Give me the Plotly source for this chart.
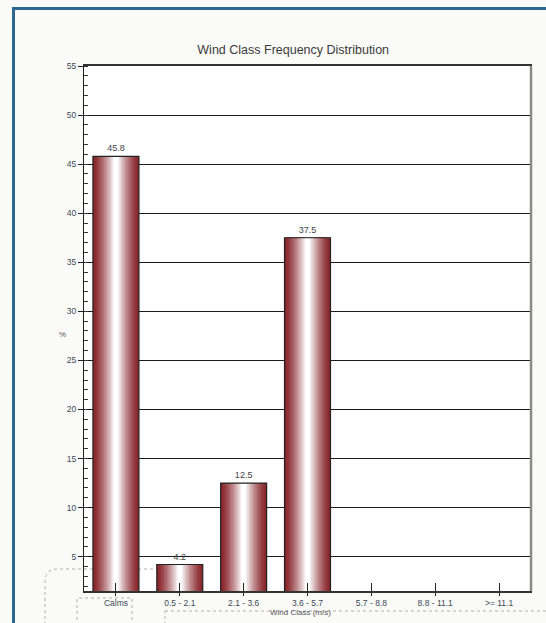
import plotly.graph_objects as go

# ---- data -------------------------------------------------------------
wind_classes = ["Calms", "0.5 - 2.1", "2.1 - 3.6", "3.6 - 5.7",
                "5.7 - 8.8", "8.8 - 11.1", ">= 11.1"]
frequency_pct = [45.8, 4.2, 12.5, 37.5, 0.0, 0.0, 0.0]
y_ticks = [5, 10, 15, 20, 25, 30, 35, 40, 45, 50, 55]

# ---- geometry ---------------------------------------------------------
W, H = 546, 623
PL, PR, PT, PB = 84, 531, 66, 591
BAR_W = 0.72
LAYERS = 16
FONT = "Liberation Sans, Arial, sans-serif"


def px(x):
    return (x - PL) / (PR - PL)


def py(y):
    return (PB - y) / (PB - PT)


dark = (136, 38, 44)
white = (255, 255, 255)


def shade(t):
    t = t ** 1.35
    return "rgb({},{},{})".format(*[round(d + (w - d) * t) for d, w in zip(dark, white)])


fig = go.Figure()

# cylinder-style shading: nested bars, narrowing toward a white core
for i in range(LAYERS):
    t = i / (LAYERS - 1)
    fig.add_trace(go.Bar(
        x=wind_classes, y=frequency_pct,
        width=BAR_W * (1 - 0.9 * t),
        marker=dict(color=shade(t), line=dict(width=0)),
        showlegend=False, hoverinfo="skip",
    ))

# outline + value labels
fig.add_trace(go.Bar(
    x=wind_classes, y=frequency_pct, width=BAR_W,
    marker=dict(color="rgba(0,0,0,0)", line=dict(color="#222", width=1.2)),
    text=[f"{v:.1f}" if v > 0 else "" for v in frequency_pct],
    textposition="outside", cliponaxis=False,
    textfont=dict(family=FONT, size=9, color="#444"),
    showlegend=False, hoverinfo="skip",
))

# companion axis carrying the upward half of the x ticks
fig.add_trace(go.Scatter(x=wind_classes, y=frequency_pct, xaxis="x2",
                         mode="none", showlegend=False, hoverinfo="skip"))

fig.update_layout(
    width=W, height=H,
    margin=dict(l=PL, r=W - PR, t=PT, b=H - PB),
    paper_bgcolor="#fafaf8", plot_bgcolor="white",
    barmode="overlay",
    font=dict(family=FONT, color="#444"),
    title=dict(text="Wind Class Frequency Distribution",
               x=0.537, xref="container", xanchor="center",
               y=1 - 50 / H, yref="container", yanchor="middle",
               font=dict(family=FONT, size=12.5, color="#3a3a3a")),
    xaxis=dict(type="category", categoryorder="array", categoryarray=wind_classes,
               range=[-0.5, len(wind_classes) - 0.5],
               showline=True, linecolor="#333", linewidth=2, mirror=True,
               ticks="outside", ticklen=3, tickwidth=1.2, tickcolor="#222",
               tickfont=dict(family=FONT, size=8.5, color="#3d4a55"),
               showgrid=False, zeroline=False),
    xaxis2=dict(type="category", categoryorder="array", categoryarray=wind_classes,
                range=[-0.5, len(wind_classes) - 0.5], overlaying="x",
                anchor="y", side="bottom", ticks="inside", ticklen=8,
                tickwidth=1.2, tickcolor="#222", showticklabels=False,
                showgrid=False, showline=False, zeroline=False),
    yaxis=dict(range=[1.5, 55], tickvals=y_ticks,
               showline=True, linecolor="#222", linewidth=1.2, mirror=True,
               ticks="outside", ticklen=5, tickwidth=1.2, tickcolor="#222",
               tickfont=dict(family=FONT, size=8.5, color="#3d4a55"),
               showgrid=True, gridcolor="#1a1a1a", gridwidth=1.3,
               minor=dict(dtick=1, tick0=0, ticks="inside", ticklen=4,
                          tickwidth=1, tickcolor="#333", showgrid=False),
               zeroline=False),
)

# axis captions
fig.add_annotation(text="%", x=px(57), y=py(334), xref="paper", yref="paper",
                   showarrow=False, font=dict(family=FONT, size=8, color="#555"))
fig.add_annotation(text="Wind Class (m/s)", x=px(300), y=py(619),
                   xref="paper", yref="paper", showarrow=False,
                   font=dict(family=FONT, size=8, color="#555"))

# page frame
fig.add_shape(type="rect", xref="paper", yref="paper",
              x0=px(13.5), x1=px(560), y0=py(640), y1=py(8.5),
              line=dict(color="#2d6890", width=3), layer="below")
# right border of the plot area
fig.add_shape(type="line", xref="paper", yref="paper",
              x0=px(531), x1=px(531), y0=py(591), y1=py(66),
              line=dict(color="#8a8a8a", width=2.5))

# faint dotted panel outlines along the bottom
dotted = dict(color="#b0b0b0", width=1, dash="dot")
fig.add_shape(type="path", xref="paper", yref="paper",
              path=(f"M {px(45)},{py(625)} L {px(45)},{py(582)} "
                    f"Q {px(45)},{py(569)} {px(58)},{py(569)} L {px(160)},{py(569)}"),
              line=dotted, layer="below")
fig.add_shape(type="rect", xref="paper", yref="paper",
              x0=px(77), x1=px(132), y0=py(625), y1=py(598), line=dotted)
fig.add_shape(type="line", xref="paper", yref="paper",
              x0=px(165), x1=px(546), y0=py(611), y1=py(611), line=dotted)
fig.add_shape(type="line", xref="paper", yref="paper",
              x0=px(165), x1=px(165), y0=py(625), y1=py(611), line=dotted)

fig.write_html("out.html")
